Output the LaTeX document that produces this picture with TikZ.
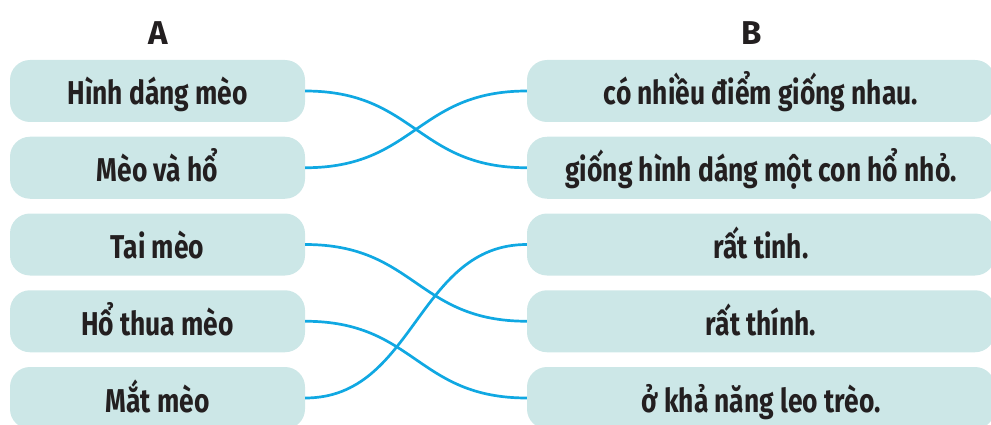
\documentclass[tikz,border=0pt]{standalone}
\usepackage{fontspec}
\setmainfont{Fira Sans}[FakeStretch=0.8]
\newfontfamily\headfont{Fira Sans}
\definecolor{boxfill}{HTML}{CCE7E7}
\definecolor{linkblue}{HTML}{10A8E2}
\definecolor{txt}{HTML}{231F20}
\begin{document}
\begin{tikzpicture}[x=1pt,y=-1pt,
  itembox/.style={fill=boxfill,rounded corners=20pt,minimum height=62pt,inner sep=0pt,
    text height=34pt,text depth=6pt,
    text=txt,font=\fontsize{33}{36}\selectfont\bfseries},
  leftbox/.style={itembox,minimum width=295pt},
  rightbox/.style={itembox,minimum width=468pt},
  head/.style={text=txt,font=\headfont\fontsize{33}{36}\selectfont\bfseries},
  link/.style={draw=linkblue,line width=2.7pt}]
\useasboundingbox (0,0) rectangle (991,425);
\node[head] (hA) at (158,33) {A};
\node[head] (hB) at (752,33) {B};
\foreach \i/\t in {1/Hình dáng mèo,2/Mèo và hổ,3/Tai mèo,4/Hổ thua mèo,5/Mắt mèo}{
  \node[leftbox] (a\i) at (157.5,{91+76.75*(\i-1)}) {\t};
}
\foreach \i/\t in {1/có nhiều điểm giống nhau.,2/giống hình dáng một con hổ nhỏ.,3/rất tinh.,4/rất thính.,5/ở khả năng leo trèo.}{
  \node[rightbox] (b\i) at (761,{91+76.75*(\i-1)}) {\t};
}
\draw[link] (a1.east) .. controls +(110,0) and +(-110,0) .. (b2.west);
\draw[link] (a2.east) .. controls +(110,0) and +(-110,0) .. (b1.west);
\draw[link] (a3.east) .. controls +(110,0) and +(-110,0) .. (b4.west);
\draw[link] (a4.east) .. controls +(110,0) and +(-110,0) .. (b5.west);
\draw[link] (a5.east) .. controls +(110,0) and +(-110,0) .. (b3.west);
\end{tikzpicture}
\end{document}
